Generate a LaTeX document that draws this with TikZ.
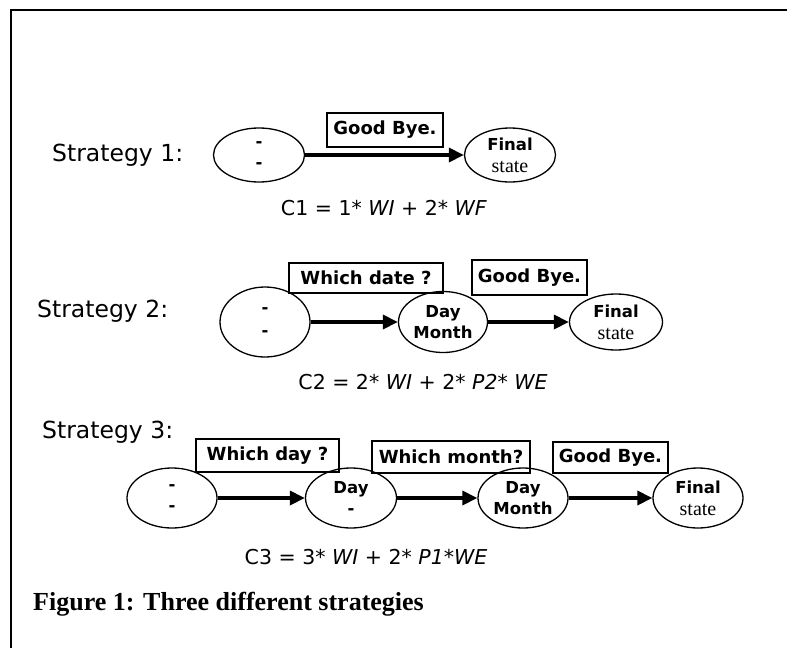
\documentclass[tikz,border=0pt]{standalone}
\usepackage{fontspec}
\setmainfont{Liberation Serif}
\newfontfamily\comic{DejaVu Sans}
\usetikzlibrary{shapes.geometric,arrows.meta}
\begin{document}
\begin{tikzpicture}[x=1pt,y=-1pt,
  ell/.style={draw,ellipse,inner sep=0pt,line width=1.3pt,align=center,
    minimum width=91pt,minimum height=58pt,font=\comic\bfseries\fontsize{16.5}{21}\selectfont},
  lbl/.style={draw,rectangle,inner sep=0pt,line width=1.2pt,
    font=\comic\bfseries\fontsize{18}{21}\selectfont,minimum height=32pt},
  arr/.style={line width=3.4pt,-{Triangle[length=15pt,width=14pt]}},
  strat/.style={anchor=west,inner sep=0pt,font=\comic\fontsize{23.5}{28}\selectfont},
  form/.style={font=\comic\fontsize{20.5}{24}\selectfont},
  st/.style={}]
\useasboundingbox (0,0) rectangle (787,648);
% frame
\draw[line width=2pt] (11,648) -- (11,10) -- (787,10);

% Strategy 1
\node[strat] (st1) at (52,155) {Strategy 1:};
\node[ell,minimum height=54pt] (a1) at (259,155) {-\\-};
\node[ell,minimum width=91pt,minimum height=54pt] (a2) at (510,155) {Final\\[1pt]{\rmfamily\mdseries\fontsize{20}{21}\selectfont state}};
\node[lbl,minimum width=116pt,minimum height=34pt] (b1) at (385,130) {Good Bye.};
\draw[arr] (a1) -- (a2);
\node[form] (c1) at (384,208) {C1 = 1* \textit{WI} + 2* \textit{WF}};

% Strategy 2
\node[strat] (st2) at (37,311) {Strategy 2:};
\node[ell,minimum width=90pt,minimum height=70pt] (d1) at (265,322) {-\\[2pt]-};
\node[ell,minimum width=89pt,minimum height=61pt] (d2) at (443,322) {Day\\Month};
\node[ell,minimum width=93pt,minimum height=56pt] (d3) at (616,322) {Final\\[1pt]{\rmfamily\mdseries\fontsize{20}{21}\selectfont state}};
\node[lbl,minimum width=154pt,minimum height=30pt] (e1) at (366,278) {Which date ?};
\node[lbl,minimum width=115pt,minimum height=35pt] (e2) at (529.5,277.5) {Good Bye.};
\draw[arr] (d1) -- (d2);
\draw[arr] (d2) -- (d3);
\node[form] (c2) at (423,382) {C2 = 2* \textit{WI} + 2* \textit{P2* WE}};

% Strategy 3
\node[strat] (st3) at (42,432) {Strategy 3:};
\node[ell,minimum width=90pt,minimum height=60pt] (f1) at (172,498) {-\\-};
\node[ell,minimum width=91pt,minimum height=60pt] (f2) at (351,498) {Day\\-};
\node[ell,minimum width=90pt,minimum height=60pt] (f3) at (523,498) {Day\\Month};
\node[ell,minimum width=90pt,minimum height=60pt] (f4) at (698,498) {Final\\[1pt]{\rmfamily\mdseries\fontsize{20}{21}\selectfont state}};
\node[lbl,minimum width=143pt,minimum height=33pt] (g1) at (267.5,455.5) {Which day ?};
\node[lbl,minimum width=158pt,minimum height=32pt] (g2) at (451,457) {Which month?};
\node[lbl,minimum width=115pt,minimum height=31pt] (g3) at (610.5,457.5) {Good Bye.};
\draw[arr] (f1) -- (f2);
\draw[arr] (f2) -- (f3);
\draw[arr] (f3) -- (f4);
\node[form] (c3) at (366,557) {C3 = 3* \textit{WI} + 2* \textit{P1*WE}};

% caption
\node[anchor=west,inner sep=0pt,font=\bfseries\fontsize{26}{30}\selectfont] (cap) at (33,604) {Figure 1: Three different strategies};
\end{tikzpicture}
\end{document}
